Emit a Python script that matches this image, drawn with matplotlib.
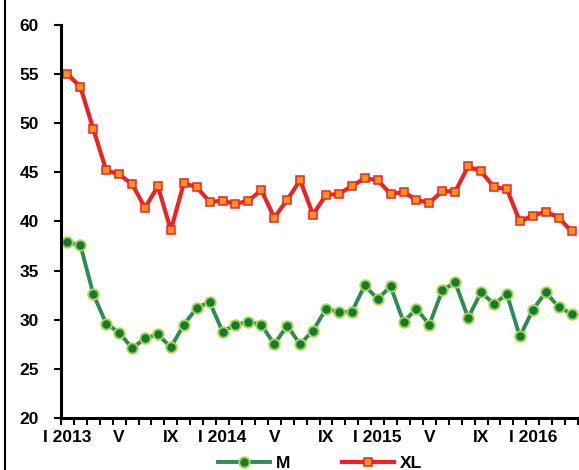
import matplotlib
matplotlib.use('Agg')
import matplotlib.pyplot as plt
from matplotlib.lines import Line2D

plt.rcParams['font.family'] = ['Liberation Sans', 'DejaVu Sans']
plt.rcParams['font.weight'] = 'bold'

# months Jan 2013 .. Apr 2016
tick_labels = ['I 2013', 'V', 'IX', 'I 2014', 'V', 'IX', 'I 2015', 'V', 'IX', 'I 2016']
tick_pos = [0, 4, 8, 12, 16, 20, 24, 28, 32, 36]

m_vals = [37.9, 37.6, 32.6, 29.6, 28.7, 27.1, 28.1, 28.5, 27.2, 29.5,
          31.2, 31.8, 28.8, 29.5, 29.8, 29.5, 27.5, 29.4, 27.5, 28.9,
          31.1, 30.8, 30.8, 33.5, 32.1, 33.4, 29.8, 31.1, 29.5, 33.0,
          33.8, 30.2, 32.8, 31.6, 32.6, 28.3, 31.0, 32.8, 31.3, 30.6]
xl_vals = [55.0, 53.7, 49.4, 45.2, 44.8, 43.8, 41.4, 43.6, 39.1, 43.9,
           43.5, 42.0, 42.1, 41.8, 42.1, 43.2, 40.4, 42.2, 44.2, 40.7,
           42.7, 42.8, 43.6, 44.4, 44.2, 42.8, 43.0, 42.2, 41.9, 43.1,
           43.05, 45.6, 45.1, 43.5, 43.3, 40.0, 40.6, 41.0, 40.4, 39.0]

x = list(range(len(m_vals)))

fig = plt.figure(figsize=(5.79, 4.70), dpi=100)
ax = fig.add_axes([61 / 579, 1 - 418 / 470, 517 / 579, 393 / 470])

ax.plot(x, m_vals, '-o', color='#2E8B57', lw=2.8, ms=7.5,
        mfc='#157A35', mec='#A6D84A', mew=1.4, label='M')
ax.plot(x, xl_vals, '-s', color='#EE2222', lw=3.0, ms=5.5,
        mfc='#F7941D', mec='#EE2222', mew=1.1, label='XL')

ax.set_ylim(20, 60)
ax.set_yticks(range(20, 61, 5))
ax.set_xlim(-0.5, len(x) - 0.5)
ax.set_xticks([i - 0.5 for i in range(len(x) + 1)])
ax.set_xticklabels([])
ax.set_xticks(tick_pos, minor=True)
ax.set_xticklabels(tick_labels, minor=True)
ax.tick_params(axis='x', which='minor', length=0, pad=9, labelsize=12.5)
ax.tick_params(axis='x', which='major', length=5, width=1.5, direction='out')
ax.tick_params(axis='y', length=5, width=1.5, direction='out', labelsize=12.5, pad=11)

for s in ['top', 'right']:
    ax.spines[s].set_visible(False)
for s in ['left', 'bottom']:
    ax.spines[s].set_linewidth(2.2)

# outer frame line on the left edge
fig.add_artist(Line2D([4.5 / 579, 4.5 / 579], [0, 1], color='black', lw=1.5,
                      transform=fig.transFigure))

ax.legend(loc='center', bbox_to_anchor=(320 / 579, 7 / 470), bbox_transform=fig.transFigure,
          ncol=2, frameon=False, fontsize=12.5, handlelength=3.0, columnspacing=3.0,
          handletextpad=0.3)

fig.savefig('out.png', dpi=100)
